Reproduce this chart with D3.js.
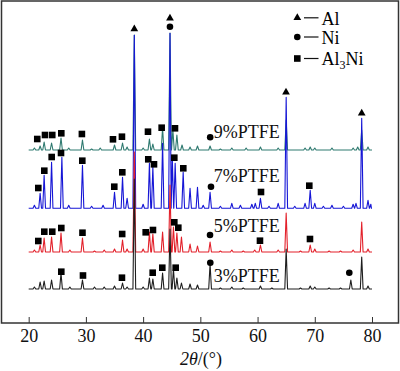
<!DOCTYPE html>
<html>
<head>
<meta charset="utf-8">
<script src="https://cdn.jsdelivr.net/npm/d3@7"></script>
<style>
  body { margin: 0; background: #fff; }
  svg { display: block; font-family: "Liberation Serif", "Times New Roman", serif; }
</style>
</head>
<body>
<div class="container"></div>
<script>
// 2theta ticks
var ticks = [20, 30, 40, 50, 60, 70, 80];

var seriesNames = ["3%PTFE", "5%PTFE", "7%PTFE", "9%PTFE"];
var seriesColors = ["#1e1e1e", "#e3212b", "#1616d6", "#2f7a70"];
var offsets = [34, 71, 114.7, 173];

// peaks: [2theta, height above baseline]
var peaks3 = [[21.0,2],[22.0,7],[22.7,8],[24.0,9],[25.65,16],[27.2,2],[29.4,9],[31.5,2],[33.2,2],[35.0,3],[36.4,6],[37.2,2],
  [38.46,110],[40.0,2],[41.1,11],[41.7,10],[43.4,16],[44.7,60],[45.3,20],[45.9,11],[46.7,6],[48.2,5],[49.5,4],[51.7,25],
  [53.5,1],[55.5,2],[57.5,1],[60.5,3],[62.5,1],[65.0,40],[67.5,1],[69.2,3],[70.0,2],[72.5,1],[74.5,1],[76.3,9],[78.2,32],[79.3,3]];
var peaks5 = [[21.0,2],[22.0,7],[22.7,14],[24.0,15],[25.65,19],[27.2,2],[29.4,14],[31.5,1],[33.2,2],[35.0,3],[36.4,12],[37.2,3],
  [38.46,100],[40.0,3],[41.1,20],[41.7,18],[43.4,20],[44.7,67],[45.3,25],[45.9,19],[46.7,15],[48.2,8],[49.5,6],[51.7,10],
  [53.5,1],[55.5,2],[57.5,1],[59.5,2],[60.5,7],[63.6,2],[65.0,39],[67.5,1],[69.2,7],[70.0,3],[72.5,1],[74.5,1],[76.7,2],[78.2,30],[79.3,3]];
var peaks7 = [[21.0,3],[22.0,15],[22.7,33],[24.0,46],[25.8,51],[27.0,3],[29.4,43],[31.0,2],[33.0,3],[35.0,16],[36.4,31],[37.2,10],
  [38.46,173],[40.0,4],[41.1,45],[41.7,41],[43.4,65],[44.7,175],[45.1,50],[45.6,45],[47.0,36],[48.2,20],[49.5,21],[50.5,3],
  [51.7,16],[53.5,2],[55.5,5],[57.0,3],[59.0,4],[59.6,5],[60.5,10],[62.0,2],[63.6,5],[65.0,111],[66.5,2],[68.3,5],[69.2,18],
  [70.0,5],[71.5,2],[73.0,3],[75.0,2],[76.7,4],[77.2,5],[78.2,90],[79.3,8],[79.8,4]];
var peaks9 = [[21.0,2],[22.0,4],[22.7,8],[24.0,7],[25.65,12],[27.0,2],[29.4,10],[31.0,1],[32.5,2],[35.0,5],[36.4,7],[37.2,3],
  [38.46,115],[40.0,2],[41.1,11],[41.7,6],[43.4,22],[44.7,117],[45.2,20],[45.9,15],[46.8,5],[48.2,3],[49.5,4],[51.7,4],
  [53.5,1],[55.5,2],[58.0,2],[60.5,3],[63.6,2],[65.0,30],[68.3,2],[69.2,3],[70.0,2],[73.0,2],[76.7,2],[77.5,3],[78.2,20],[79.3,3]];
var peakSets = [peaks3, peaks5, peaks7, peaks9];

// phase markers: [2theta, intensity level]
var markAl = [[38.46,294],[44.69,304.7],[64.97,230.7],[78.2,209.7]];
var markNi = [[44.69,296.3],[51.72,185.7],[51.86,136.3],[51.69,88],[51.74,60.3],[76.03,50.3]];
var markAl3Ni = [
  [21.5,184],[22.85,188],[24.12,188],[25.7,189.7],[29.3,189],[34.73,183.7],[36.3,186.3],[40.85,191.3],[43.24,195.3],[45.57,194.7],
  [21.68,135],[22.73,152.3],[24.02,166],[25.65,170],[29.37,162.3],[34.96,136.3],[36.36,150.7],[40.9,163.7],[41.9,158.7],[45.45,165.3],[47.02,154.7],[60.6,131],[69.04,137.3],
  [21.68,82],[22.73,91.3],[24.12,91.3],[25.7,95],[29.4,90.3],[36.34,89],[40.45,90.7],[41.72,93],[45.45,100.7],[46.15,95.3],[60.42,82.3],[69.16,84],
  [25.7,51.3],[29.49,47.5],[36.3,45.3],[41.67,50.3],[43.35,55.3],[45.69,55.3]];

var W = 400, H = 371;
var padL = 1.5, padR = 398.5, padT = 1, padB = 323;

var svg = d3.select(".container").append("svg")
  .attr("width", W).attr("height", H);

var x = d3.scaleLinear().domain([15.25, 84.63]).range([padL, padR]);
var y = d3.scaleLinear().domain([0, 322]).range([padB, padT]);

function profile(peaks, off) {
  var pts = [[20, off]];
  var w = 0.24;
  peaks.forEach(function(p, i) {
    var prev = i > 0 ? peaks[i-1][0] : 20;
    var next = i < peaks.length - 1 ? peaks[i+1][0] : 80;
    var l = Math.max(p[0] - w, (prev + p[0]) / 2);
    var r = Math.min(p[0] + w, (p[0] + next) / 2);
    pts.push([l, off], [p[0], off + p[1]], [r, off]);
  });
  pts.push([80, off]);
  return pts;
}

var line = d3.line()
  .x(function(d) { return x(d[0]); })
  .y(function(d) { return y(d[1]); });

// draw top series first so lower ones sit above
[3, 2, 1, 0].forEach(function(i) {
  svg.append("path")
    .datum(profile(peakSets[i], offsets[i]))
    .attr("fill", "none")
    .attr("stroke", seriesColors[i])
    .attr("stroke-width", 1.1)
    .attr("stroke-linejoin", "round")
    .attr("d", line);
});

// markers
svg.selectAll(".tri").data(markAl).enter().append("path")
  .attr("d", d3.symbol().type(d3.symbolTriangle).size(26))
  .attr("transform", function(d) { return "translate(" + x(d[0]) + "," + y(d[1]) + ")"; })
  .attr("fill", "#000");
svg.selectAll(".dot").data(markNi).enter().append("circle")
  .attr("cx", function(d) { return x(d[0]); })
  .attr("cy", function(d) { return y(d[1]); })
  .attr("r", 3.3)
  .attr("fill", "#000");
svg.selectAll(".sq").data(markAl3Ni).enter().append("rect")
  .attr("x", function(d) { return x(d[0]) - 3.3; })
  .attr("y", function(d) { return y(d[1]) - 3.3; })
  .attr("width", 6.6).attr("height", 6.6)
  .attr("fill", "#000");

// series labels
var labelLevels = [41.3, 91.5, 141, 184.7];
seriesNames.forEach(function(s, i) {
  svg.append("text")
    .attr("x", x(52.35))
    .attr("y", y(labelLevels[i]))
    .attr("font-size", 18)
    .attr("fill", "#111")
    .text(s);
});

// axis
var axis = svg.append("g")
  .attr("transform", "translate(0," + padB + ")")
  .call(d3.axisBottom(x).tickValues(ticks).tickSizeInner(-6).tickSizeOuter(0));
axis.attr("font-family", null).attr("font-size", null);
axis.select(".domain").remove();
axis.selectAll("line").attr("stroke", "#333");
axis.selectAll("text")
  .attr("y", 19).attr("dy", 0)
  .style("font-size", "18px")
  .style("font-family", "'Liberation Serif', serif")
  .attr("fill", "#111");

svg.append("rect")
  .attr("x", padL).attr("y", padT)
  .attr("width", padR - padL).attr("height", padB - padT)
  .attr("fill", "none")
  .attr("stroke", "#333")
  .attr("stroke-width", 1.5);

var title = svg.append("text")
  .attr("x", 201).attr("y", 365)
  .attr("text-anchor", "middle")
  .attr("font-size", 18)
  .attr("fill", "#111");
title.append("tspan").attr("font-style", "italic").text("2θ");
title.append("tspan").text("/(°)");

// legend
var lg = svg.append("g");
var legendRows = [17.8, 37, 58.5];
lg.append("path")
  .attr("d", d3.symbol().type(d3.symbolTriangle).size(26))
  .attr("transform", "translate(297.3," + legendRows[0] + ")");
lg.append("circle").attr("cx", 297.3).attr("cy", legendRows[1]).attr("r", 3.3);
lg.append("rect").attr("x", 294).attr("y", legendRows[2] - 3.3).attr("width", 6.6).attr("height", 6.6);
legendRows.forEach(function(r) {
  lg.append("line").attr("x1", 304).attr("x2", 318.5).attr("y1", r).attr("y2", r)
    .attr("stroke", "#111").attr("stroke-width", 1.2);
});
lg.append("text").attr("x", 321.5).attr("y", 25).attr("font-size", 18).text("Al");
lg.append("text").attr("x", 321.5).attr("y", 44).attr("font-size", 18).text("Ni");
var a3 = lg.append("text").attr("x", 321.5).attr("y", 64.5).attr("font-size", 18);
a3.append("tspan").text("Al");
a3.append("tspan").attr("font-size", 12).attr("dy", 4).text("3");
a3.append("tspan").attr("dy", -4).text("Ni");
</script>
</body>
</html>
